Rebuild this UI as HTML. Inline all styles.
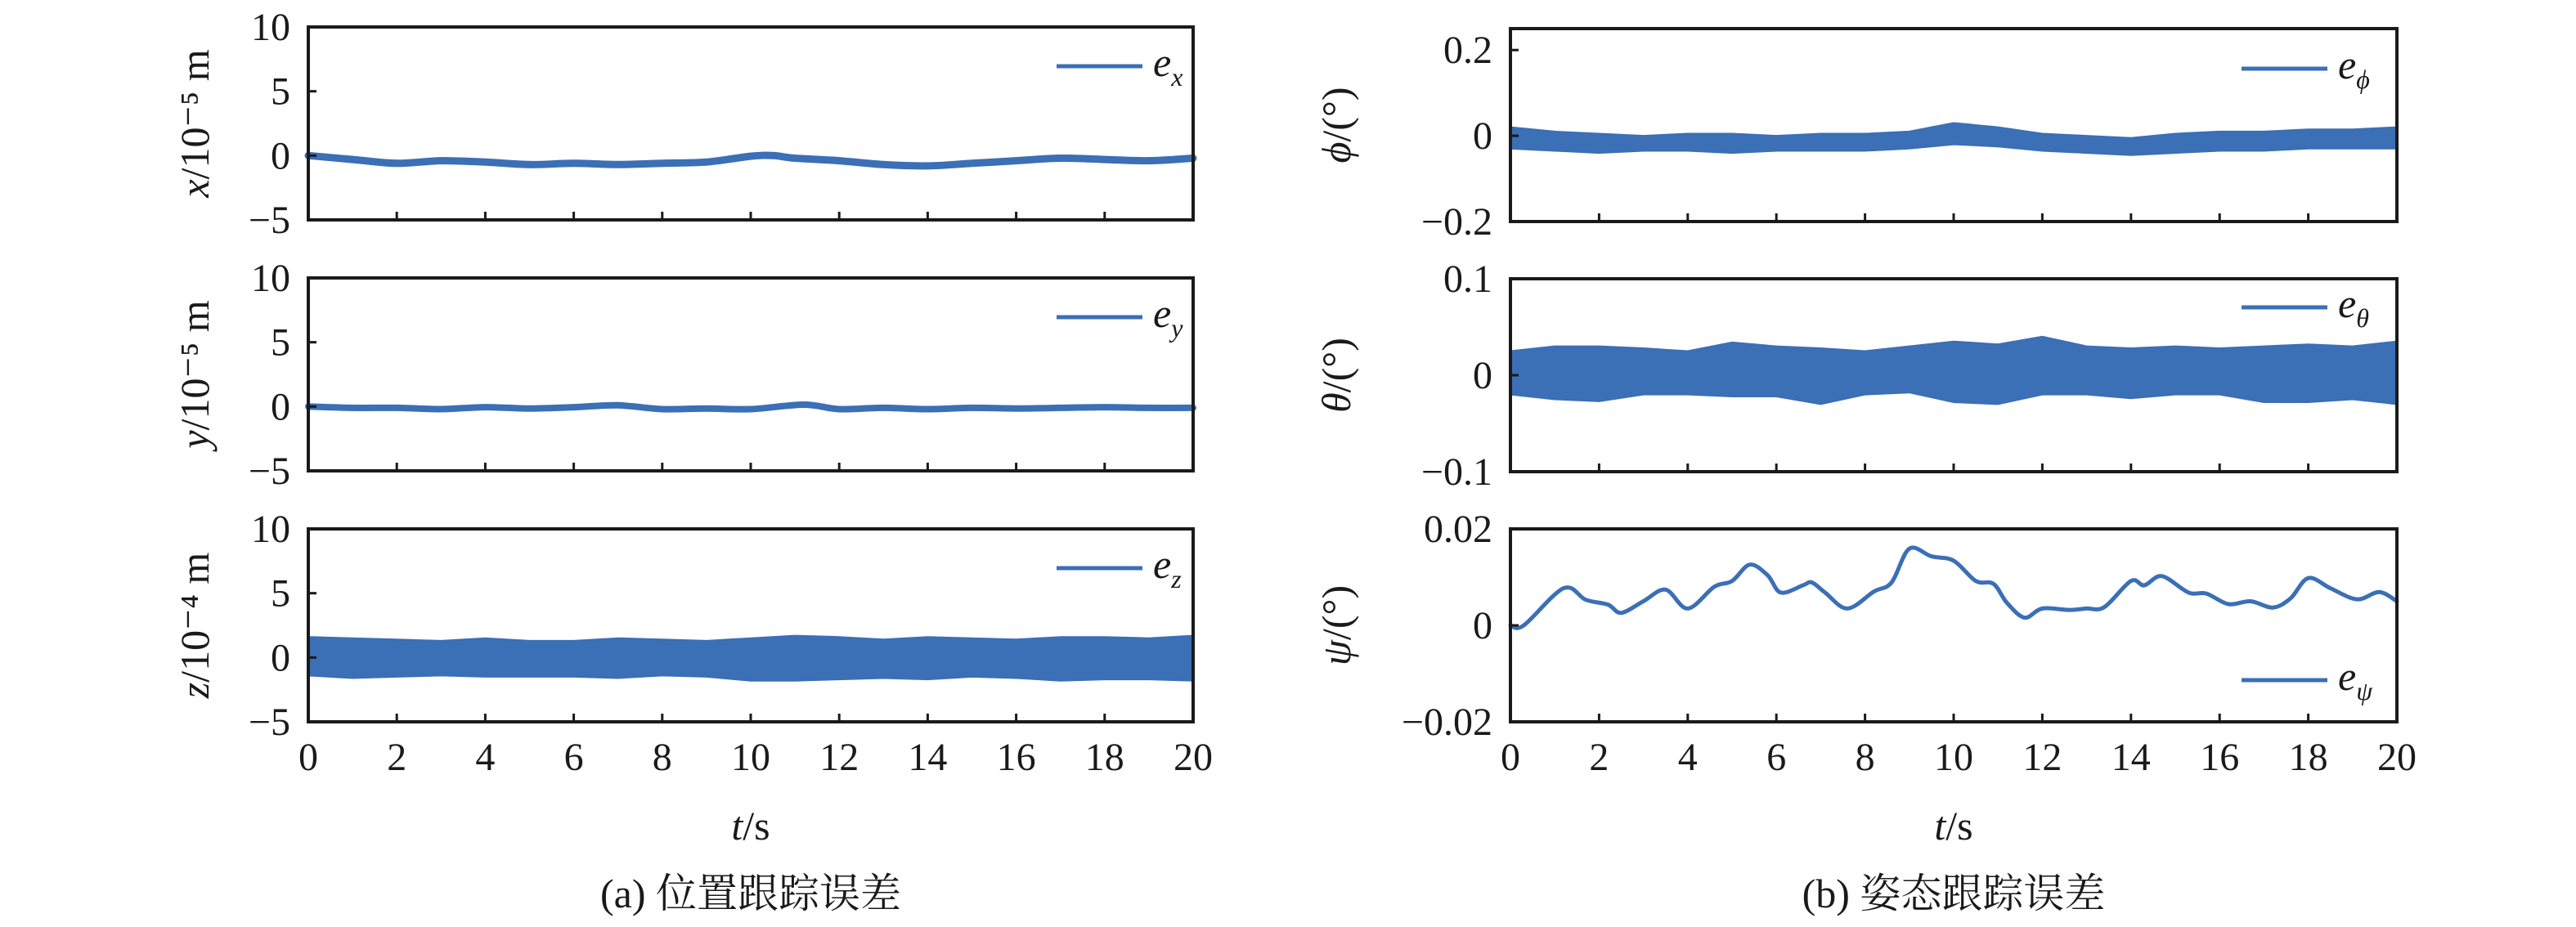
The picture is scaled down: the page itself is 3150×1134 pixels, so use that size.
<!DOCTYPE html>
<html><head><meta charset="utf-8">
<style>
html,body{margin:0;padding:0;background:#fff;}
svg{display:block;}
text{font-family:"Liberation Serif","Noto Serif CJK SC",serif;fill:#1a1a1a;}
</style></head>
<body>
<svg id="fig" width="3150" height="1134" viewBox="0 0 3150 1134" xmlns="http://www.w3.org/2000/svg">
<text x="918" y="1110" font-size="50" text-anchor="middle">(a) 位置跟踪误差</text>
<text x="2389" y="1110" font-size="50" text-anchor="middle">(b) 姿态跟踪误差</text>
<text x="918" y="1027" font-size="50" text-anchor="middle"><tspan font-style="italic">t</tspan>/s</text>
<text x="2389" y="1027" font-size="50" text-anchor="middle"><tspan font-style="italic">t</tspan>/s</text>
</svg>
<script>
const tGrid = [0,1,2,3,4,5,6,7,8,9,10,11,12,13,14,15,16,17,18,19,20];
const xTickLabels = ["0","2","4","6","8","10","12","14","16","18","20"];
const exT = [0,1,2,3,4,5,6,7,8,9,10,10.5,11,12,13,14,15,16,17,18,19,20];
const exV = [0,-0.3,-0.6,-0.4,-0.5,-0.7,-0.6,-0.7,-0.6,-0.5,-0.05,0,-0.2,-0.4,-0.7,-0.8,-0.6,-0.4,-0.2,-0.3,-0.4,-0.2];
const eyT = [0,1,2,3,4,5,6,7,8,9,10,11.2,12,13,14,15,16,17,18,19,20];
const eyV = [0,-0.1,-0.1,-0.2,-0.05,-0.15,-0.05,0.1,-0.2,-0.15,-0.2,0.15,-0.2,-0.1,-0.2,-0.1,-0.15,-0.1,-0.05,-0.1,-0.1];
const ezUp = [1.6,1.5,1.4,1.3,1.5,1.3,1.3,1.5,1.4,1.3,1.5,1.7,1.6,1.4,1.6,1.5,1.4,1.6,1.6,1.5,1.7];
const ezLo = [-1.4,-1.6,-1.5,-1.4,-1.5,-1.5,-1.5,-1.6,-1.4,-1.5,-1.8,-1.8,-1.7,-1.6,-1.7,-1.5,-1.6,-1.8,-1.7,-1.7,-1.8];
const phiUp = [0.02,0.01,0.005,0.0,0.005,0.005,0.0,0.005,0.005,0.01,0.03,0.02,0.005,0.0,-0.005,0.005,0.01,0.01,0.015,0.015,0.02];
const phiLo = [-0.03,-0.035,-0.04,-0.035,-0.035,-0.04,-0.035,-0.035,-0.035,-0.03,-0.02,-0.025,-0.035,-0.04,-0.045,-0.04,-0.035,-0.035,-0.03,-0.03,-0.03];
const thUp = [0.025,0.03,0.03,0.028,0.025,0.034,0.03,0.028,0.025,0.03,0.035,0.032,0.04,0.03,0.028,0.03,0.028,0.03,0.032,0.03,0.035];
const thLo = [-0.02,-0.025,-0.027,-0.02,-0.02,-0.022,-0.022,-0.03,-0.02,-0.018,-0.028,-0.03,-0.02,-0.02,-0.024,-0.02,-0.02,-0.028,-0.028,-0.025,-0.03];
const psiT = [0,0.3,1.2,1.7,2.2,2.5,3,3.5,4,4.6,5,5.4,5.8,6.1,6.6,6.8,7.1,7.6,8.2,8.6,9,9.5,10,10.5,10.9,11.2,11.6,12,12.6,13,13.4,14,14.3,14.7,15.3,15.7,16.2,16.7,17.2,17.6,18,18.5,19.1,19.6,20];
const psiV = [0,0,0.0077,0.0053,0.0043,0.0026,0.005,0.0074,0.0035,0.008,0.0092,0.0126,0.0104,0.0068,0.0083,0.0089,0.0068,0.0035,0.007,0.0089,0.0159,0.0143,0.0134,0.0092,0.0086,0.0047,0.0016,0.0035,0.0032,0.0035,0.0038,0.0092,0.0083,0.0102,0.0068,0.0066,0.0044,0.005,0.0037,0.0056,0.0098,0.0077,0.0054,0.0069,0.005];

const NS = "http://www.w3.org/2000/svg";
const svg = document.getElementById('fig');
const BLUE = "#3b6fb6";
function mk(tag, attrs, parent){const e=document.createElementNS(NS,tag);for(const k in attrs)e.setAttribute(k,attrs[k]);(parent||svg).appendChild(e);return e;}
function smooth(P){
  let d='M'+P[0][0].toFixed(1)+','+P[0][1].toFixed(1);
  for(let i=0;i<P.length-1;i++){
    const p0=P[Math.max(0,i-1)],p1=P[i],p2=P[i+1],p3=P[Math.min(P.length-1,i+2)];
    const c1=[p1[0]+(p2[0]-p0[0])/6,p1[1]+(p2[1]-p0[1])/6];
    const c2=[p2[0]-(p3[0]-p1[0])/6,p2[1]-(p3[1]-p1[1])/6];
    d+=' C'+c1[0].toFixed(1)+','+c1[1].toFixed(1)+' '+c2[0].toFixed(1)+','+c2[1].toFixed(1)+' '+p2[0].toFixed(1)+','+p2[1].toFixed(1);
  }
  return d;
}

const panels = [
 {id:'x', x0:377, x1:1459, top:33, ymin:-5, ymax:10, ticks:[-5,0,5,10], labels:["\u22125","0","5","10"], lab:'x', unit:'/10\u207b\u2075 m', sub:'x', legY:81, kind:'line', T:exT, V:exV, sw:9, labX:244},
 {id:'y', x0:377, x1:1459, top:340, ymin:-5, ymax:10, ticks:[-5,0,5,10], labels:["\u22125","0","5","10"], lab:'y', unit:'/10\u207b\u2075 m', sub:'y', legY:388, kind:'line', T:eyT, V:eyV, sw:8, labX:244},
 {id:'z', x0:377, x1:1459, top:647, ymin:-5, ymax:10, ticks:[-5,0,5,10], labels:["\u22125","0","5","10"], lab:'z', unit:'/10\u207b\u2074 m', sub:'z', legY:695, kind:'band', U:ezUp, L:ezLo, labX:244},
 {id:'phi', x0:1847, x1:2931, top:35, ymin:-0.2, ymax:0.25, ticks:[-0.2,0,0.2], labels:["\u22120.2","0","0.2"], lab:'\u03d5', unit:'/(\u00b0)', sub:'\u03d5', legY:84, kind:'band', U:phiUp, L:phiLo, labX:1640},
 {id:'theta', x0:1847, x1:2931, top:341, ymin:-0.1, ymax:0.1, ticks:[-0.1,0,0.1], labels:["\u22120.1","0","0.1"], lab:'\u03b8', unit:'/(\u00b0)', sub:'\u03b8', legY:376, kind:'band', U:thUp, L:thLo, labX:1640},
 {id:'psi', x0:1847, x1:2931, top:647, ymin:-0.02, ymax:0.02, ticks:[-0.02,0,0.02], labels:["\u22120.02","0","0.02"], lab:'\u03c8', unit:'/(\u00b0)', sub:'\u03c8', legY:832, kind:'line', T:psiT, V:psiV, sw:5, labX:1640}
];
const H = 236;
panels.forEach((p, pi) => {
  const bottom = p.top + H;
  const sx = t => p.x0 + (t/20)*(p.x1-p.x0);
  const sy = v => bottom - (v-p.ymin)/(p.ymax-p.ymin)*H;
  const g = mk('g', {});
  
  
  if (p.kind === 'line') {
    const P = p.T.map((t,i)=>[sx(t), sy(p.V[i])]);
    const pl = mk('path', {d:smooth(P), fill:'none', stroke:BLUE, 'stroke-width':p.sw, 'stroke-linejoin':'round', 'stroke-linecap':'round'}, g);
    
    
  } else {
    let d = 'M' + tGrid.map((t,i)=>sx(t).toFixed(1)+','+sy(p.U[i]).toFixed(1)).join(' L');
    for (let i=tGrid.length-1;i>=0;i--) d += ' L'+sx(tGrid[i]).toFixed(1)+','+sy(p.L[i]).toFixed(1);
    d += ' Z';
    const pa = mk('path', {d:d, fill:BLUE, stroke:BLUE, 'stroke-width':2}, g);
    
    
  }
  const fr = mk('rect', {x:p.x0, y:p.top, width:p.x1-p.x0, height:H, fill:'none', stroke:'#1a1a1a', 'stroke-width':4}, g);
  
  
  for (let k=1;k<10;k++){
    const tk = mk('line', {x1:sx(k*2), x2:sx(k*2), y1:bottom, y2:bottom-10, stroke:'#1a1a1a','stroke-width':3}, g);
    
    
  }
  if (pi === 2 || pi === 5) {
    xTickLabels.forEach((l,k)=>{
      const tx = mk('text', {x:sx(k*2), y:942, 'font-size':48, 'text-anchor':'middle'}, g);
      tx.textContent = l;
      
      
    });
  }
  p.ticks.forEach((v,k)=>{
    const yy = sy(v);
    if (v !== p.ymin && v !== p.ymax) {
      const tk = mk('line', {x1:p.x0, x2:p.x0+10, y1:yy, y2:yy, stroke:'#1a1a1a','stroke-width':3}, g);
      
      
    }
    const tx = mk('text', {x:p.x0-22, y:yy+16, 'font-size':48, 'text-anchor':'end'}, g);
    tx.textContent = p.labels[k];
    
    
  });
  const cy = p.top + H/2;
  const yl = mk('text', {x:p.labX, y:cy, 'font-size':50, 'text-anchor':'middle', transform:'rotate(-90 '+p.labX+' '+cy+')', 'dominant-baseline':'middle'}, g);
  
  
  const ts1 = mk('tspan', {'font-style':'italic'}, yl); ts1.textContent = p.lab;
  const ts2 = mk('tspan', {}, yl); ts2.textContent = p.unit;
  const lx0 = p.x0 < 1000 ? 1292 : 2741;
  const leg = mk('g', {}, g);
  
  
  mk('line', {x1:lx0, x2:lx0+105, y1:p.legY, y2:p.legY, stroke:BLUE, 'stroke-width':5}, leg);
  const lt = mk('text', {x:lx0+118, y:p.legY+12, 'font-size':50, 'font-style':'italic'}, leg);
  lt.textContent = 'e';
  const sub = mk('tspan', {'font-size':32, dy:12}, lt); sub.textContent = p.sub;
});
</script>
</body></html>
